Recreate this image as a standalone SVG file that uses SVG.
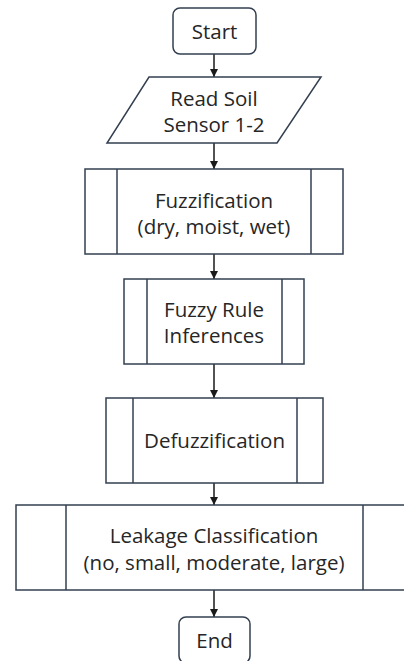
<svg xmlns="http://www.w3.org/2000/svg" width="404" height="661" viewBox="0 0 404 661">
<style>
.shape{fill:#ffffff;stroke:#333f50;stroke-width:1.5}
.conn{stroke:#1a1a1a;stroke-width:1.5;fill:none}
text{font-family:"Open Sans","Liberation Sans",sans-serif;font-size:20.5px;fill:#262626;text-anchor:middle}
</style>
<defs>
<marker id="arr" viewBox="0 0 8 8" refX="8" refY="4" markerWidth="8" markerHeight="8" markerUnits="userSpaceOnUse" orient="auto">
<path d="M0,0 L8,4 L0,8 z" fill="#1a1a1a"/>
</marker>
</defs>
<rect width="404" height="661" fill="#ffffff"/>
<g id="connectors">
<line class="conn" x1="214" y1="54" x2="214" y2="77" marker-end="url(#arr)"/>
<line class="conn" x1="214" y1="143" x2="214" y2="169" marker-end="url(#arr)"/>
<line class="conn" x1="214" y1="254" x2="214" y2="279" marker-end="url(#arr)"/>
<line class="conn" x1="214" y1="364" x2="214" y2="398" marker-end="url(#arr)"/>
<line class="conn" x1="214" y1="483" x2="214" y2="505" marker-end="url(#arr)"/>
<line class="conn" x1="214" y1="590" x2="214" y2="617" marker-end="url(#arr)"/>
</g>
<g id="start">
<rect class="shape" x="173" y="8" width="83" height="46" rx="7"/>
<text x="214.5" y="39">Start</text>
</g>
<g id="read">
<polygon class="shape" points="149,77 321,77 277,143 107,143"/>
<text x="214" y="106">Read Soil</text>
<text x="214" y="132">Sensor 1-2</text>
</g>
<g id="fuzzification">
<rect class="shape" x="85" y="169" width="258" height="85"/>
<line class="shape" x1="117" y1="169" x2="117" y2="254"/>
<line class="shape" x1="311" y1="169" x2="311" y2="254"/>
<text x="214" y="208">Fuzzification</text>
<text x="214" y="234">(dry, moist, wet)</text>
</g>
<g id="rules">
<rect class="shape" x="124" y="279" width="180" height="85"/>
<line class="shape" x1="147" y1="279" x2="147" y2="364"/>
<line class="shape" x1="282" y1="279" x2="282" y2="364"/>
<text x="214" y="317">Fuzzy Rule</text>
<text x="214" y="343">Inferences</text>
</g>
<g id="defuzzification">
<rect class="shape" x="106" y="398" width="217" height="85"/>
<line class="shape" x1="133" y1="398" x2="133" y2="483"/>
<line class="shape" x1="297" y1="398" x2="297" y2="483"/>
<text x="214.5" y="448">Defuzzification</text>
</g>
<g id="classification">
<rect class="shape" x="16" y="505" width="396" height="85"/>
<line class="shape" x1="66" y1="505" x2="66" y2="590"/>
<line class="shape" x1="363" y1="505" x2="363" y2="590"/>
<text x="214" y="543">Leakage Classification</text>
<text x="214" y="570">(no, small, moderate, large)</text>
</g>
<g id="end">
<rect class="shape" x="179" y="617" width="71" height="46" rx="7"/>
<text x="214.5" y="648">End</text>
</g>
</svg>
